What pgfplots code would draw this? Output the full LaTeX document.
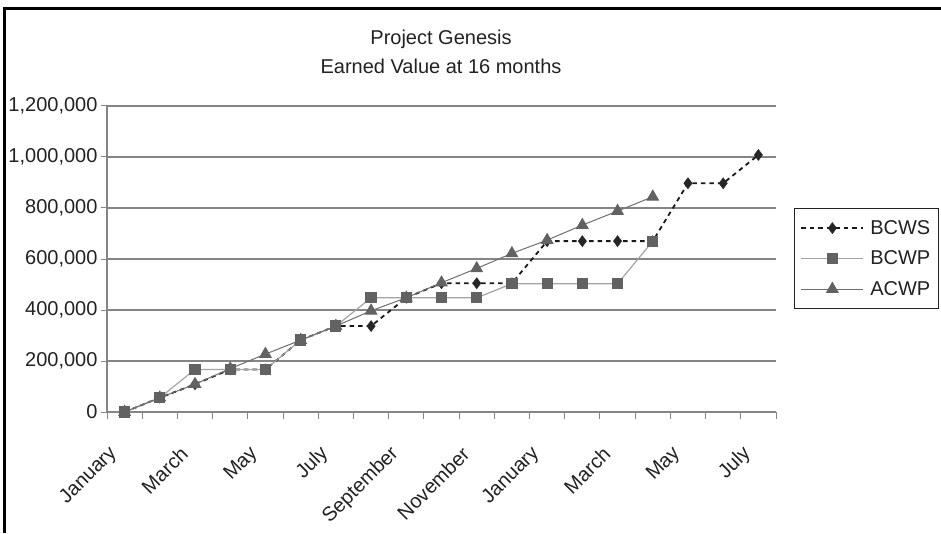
\documentclass[border=0pt]{standalone}
\usepackage{fontspec}
\setmainfont{Liberation Sans}
\usepackage{pgfplots}
\usepackage{pgfplotstable}
\pgfplotsset{compat=1.18}
\definecolor{gridgray}{HTML}{858585}
\definecolor{markgray}{HTML}{626262}
\definecolor{linegray}{HTML}{A4A4A4}
\definecolor{acwpline}{HTML}{707070}
\definecolor{txt}{HTML}{222222}

\pgfplotstableread{
m bcws
0 0
1 56000
2 109000
3 167000
4 167000
5 282000
6 337000
7 337000
8 448000
9 505000
10 505000
11 505000
12 670000
13 670000
14 670000
15 670000
16 897000
17 897000
18 1008000
}\bcws

\pgfplotstableread{
m bcwp
0 0
1 56000
2 167000
3 167000
4 167000
5 282000
6 337000
7 448000
8 448000
9 448000
10 448000
11 503000
12 503000
13 503000
14 503000
15 670000
}\bcwp

\pgfplotstableread{
m acwp
0 0
1 56000
2 109000
3 170000
4 227000
5 282000
6 337000
7 397000
8 448000
9 507000
10 563000
11 622000
12 674000
13 733000
14 788000
15 844000
}\acwp

\begin{document}
\begin{tikzpicture}
\useasboundingbox (0pt,0pt) rectangle (941pt,533pt);
\fill[white] (0pt,0pt) rectangle (941pt,533pt);
\draw[line width=3pt, black] (4.5pt,0pt) -- (4.5pt,524.5pt) -- (941pt,524.5pt);
\node[align=center, font=\fontsize{20}{29}\selectfont, text=txt] at (441pt,481.5pt) {Project Genesis\\Earned Value at 16 months};
\begin{axis}[
  at={(107pt,121pt)}, anchor=south west,
  scale only axis, width=669pt, height=306pt,
  xmin=-0.5, xmax=18.5, ymin=0, ymax=1200000,
  axis lines*=left,
  axis line style={gridgray, line width=1.2pt},
  ymajorgrids, grid style={gridgray, line width=1.3pt},
  ytick={0,200000,400000,600000,800000,1000000,1200000},
  scaled y ticks=false,
  yticklabel style={/pgf/number format/fixed, /pgf/number format/1000 sep={,}},
  /pgf/number format/assume math mode=true,
  tick align=outside,
  major tick length=6pt,
  minor tick length=7pt,
  every major tick/.append style={gridgray, line width=1pt},
  every minor tick/.append style={gridgray, line width=1pt},
  every major x tick/.append style={draw=none},
  xtick={0,2,...,18},
  xticklabels={January,March,May,July,September,November,January,March,May,July},
  minor xtick={-0.5,0.5,...,18.5},
  tick label style={font=\fontsize{20}{24}\selectfont, text=txt},
  xticklabel style={anchor=east, inner sep=1pt, xshift=-10pt, yshift=-8pt, rotate=45},
  xticklabel shift=24pt,
  legend style={at={(1.027,0.6667)}, anchor=north west, draw=txt, line width=0.8pt,
    font=\fontsize{20}{24}\selectfont, text=txt, inner xsep=6pt, inner ysep=10pt, row sep=11pt,
    cells={anchor=west},
    /tikz/every odd column/.append style={column sep=4pt}},
  legend image code/.code={\draw[mark repeat=2, mark phase=2, #1] plot coordinates {(0pt,0pt) (31pt,0pt) (62pt,0pt)};},
]
\addplot[black!90, line width=1.8pt, dash pattern=on 4.5pt off 4pt, mark=diamond*, mark size=5.5pt, mark options={solid, fill=black!85, draw=black!85, line width=0.5pt}] table[x=m, y=bcws] {\bcws};
\addlegendentry{BCWS}
\addplot[linegray, line width=1.2pt, mark=square*, mark size=5pt, mark options={solid, fill=markgray, draw=markgray}] table[x=m, y=bcwp] {\bcwp};
\addlegendentry{BCWP}
\addplot[acwpline, line width=1pt, mark=triangle*, mark size=6.5pt, mark options={solid, fill=markgray, draw=markgray}] table[x=m, y=acwp] {\acwp};
\addlegendentry{ACWP}
\end{axis}
\end{tikzpicture}
\end{document}
